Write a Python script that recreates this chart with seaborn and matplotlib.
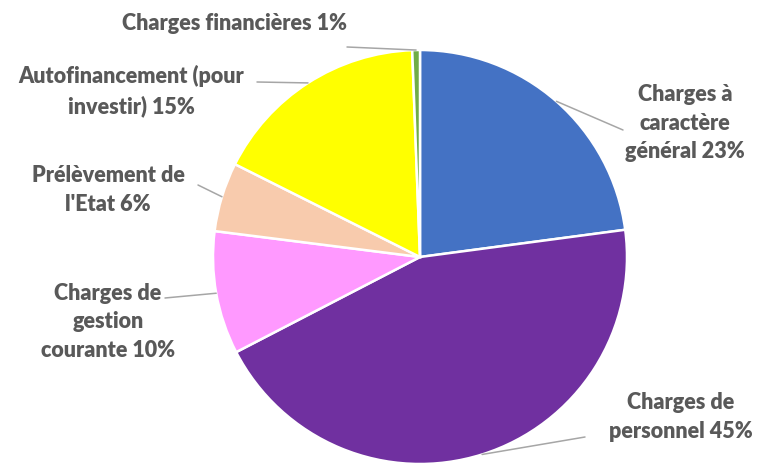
import numpy as np
import matplotlib
matplotlib.use("Agg")
import matplotlib.pyplot as plt
import seaborn as sns

# slice order, clockwise from 12 o'clock
labels = ["Charges à\ncaractère\ngénéral 23%",
          "Charges de\npersonnel 45%",
          "Charges de\ngestion\ncourante 10%",
          "Prélèvement de\nl'Etat 6%",
          "Autofinancement (pour\ninvestir) 15%",
          "Charges financières 1%"]
# shares as drawn in the picture (the printed % are rounded differently)
shares = [22.9, 44.5, 9.6, 5.4, 17.0, 0.6]
colors = ["#4472C4", "#7030A0", "#FF99FF", "#F8CBAD", "#FFFF00", "#70AD47"]

# label layout in pixel coords (y from the top): text centre, leader end
text_pos = [(685, 123), (681, 417), (108, 322), (108, 190), (131, 91), (235, 24)]
leader_end = [(623, 130), (585, 437), (165, 298), (198, 185), (257, 82), (347, 47)]

W, H = 762, 463
cx, cy, r = 420, 257, 207

sns.set_theme(style="white")
plt.rcParams['font.family'] = ['Lato', 'DejaVu Sans']

fig = plt.figure(figsize=(W / 100, H / 100), dpi=100)
ax = fig.add_axes([0, 0, 1, 1])

wedges, _ = ax.pie(shares, colors=colors, startangle=90, counterclock=False,
                   center=(cx, H - cy), radius=r,
                   wedgeprops=dict(edgecolor="white", linewidth=1.8))
ax.set_xlim(0, W)
ax.set_ylim(0, H)
ax.set_aspect("equal")
ax.axis("off")

for w, lab, (tx, ty), (ex, ey) in zip(wedges, labels, text_pos, leader_end):
    mid = np.deg2rad((w.theta1 + w.theta2) / 2)
    ax_x = cx + r * np.cos(mid)
    ax_y = (H - cy) + r * np.sin(mid)
    ax.plot([ax_x, ex], [ax_y, H - ey], color="#A6A6A6", lw=1.1)
    ax.text(tx, H - ty, lab, ha="center", va="center", fontsize=15.5,
            fontweight="heavy", color="#595959", linespacing=1.45)

fig.savefig("out.png", dpi=100)
